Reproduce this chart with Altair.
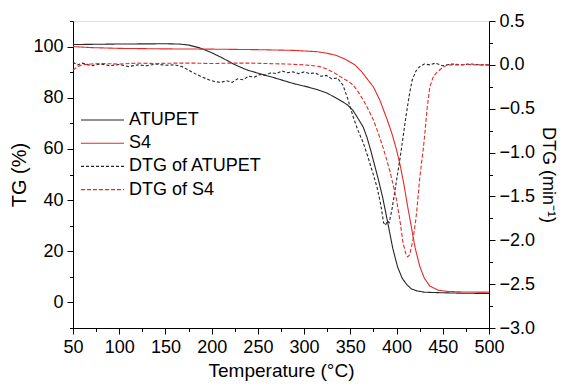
import altair as alt
import pandas as pd

FONT = "Liberation Sans"

# ---- data ----
atupet_tg_T = [50, 100, 150, 165, 175, 187, 200, 212, 223, 237, 252, 265, 277, 290, 303, 314, 325, 339,
               347, 353, 359, 364, 368, 372, 376, 380, 385, 390, 396, 401, 406, 411, 416, 422, 430, 447, 470, 500]
atupet_tg = [100.8, 101.0, 101.1, 101.0, 100.6, 99.5, 97.6, 95.5, 93.3, 91.0, 89.4, 88.1, 86.8, 85.4, 84.3,
             83.2, 81.8, 79.0, 77.2, 75.0, 71.5, 68.5, 64.5, 59.5, 54.0, 48.5, 41.0, 32.0, 21.0, 14.0, 9.5,
             7.0, 5.3, 4.5, 4.0, 3.8, 3.6, 3.5]

s4_tg_T = [50, 70, 100, 150, 200, 250, 290, 314, 325, 335, 345, 355, 362, 369, 375, 382, 390, 395, 400,
           404, 408, 412, 416, 420, 425, 430, 436, 445, 455, 470, 500]
s4_tg = [100.0, 99.6, 99.3, 99.1, 99.0, 98.8, 98.5, 98.0, 97.4, 96.5, 95.0, 92.8, 90.3, 87.0, 84.2, 79.0,
         71.3, 66.0, 59.6, 53.5, 46.0, 37.5, 29.5, 21.5, 14.2, 9.5, 6.4, 4.8, 4.3, 4.1, 4.0]

atupet_dtg_T = [50, 55, 60, 70, 80, 90, 100, 110, 120, 130, 140, 150, 160, 168, 175, 182, 190, 197, 203,
                210, 216, 222, 228, 234, 240, 246, 252, 258, 264, 270, 276, 282, 288, 294, 300, 306, 312,
                318, 324, 330, 336, 342, 347, 353, 358, 364, 369, 374, 379, 383, 386, 388, 390, 392, 395,
                398, 401, 404, 408, 411, 414, 417, 421, 425, 430, 436, 442, 450, 460, 470, 480, 490, 500]
atupet_dtg = [0.03, 0.0, 0.02, -0.01, 0.01, -0.01, 0.005, -0.02, 0.0, -0.01, 0.01, -0.005, 0.0, -0.02,
              -0.06, -0.1, -0.14, -0.17, -0.19, -0.2, -0.18, -0.2, -0.16, -0.17, -0.13, -0.14, -0.11,
              -0.12, -0.09, -0.1, -0.07, -0.09, -0.08, -0.1, -0.08, -0.1, -0.09, -0.13, -0.12, -0.16,
              -0.15, -0.23, -0.38, -0.59, -0.74, -0.89, -1.05, -1.22, -1.4, -1.6, -1.8, -1.83, -1.78,
              -1.8, -1.65, -1.45, -1.25, -1.05, -0.75, -0.53, -0.33, -0.17, -0.07, -0.02, 0.01, 0.0,
              0.02, -0.01, 0.01, 0.0, 0.01, 0.0, 0.0]

s4_dtg_T = [50, 55, 60, 70, 80, 100, 120, 140, 160, 180, 200, 220, 240, 260, 280, 300, 310, 317, 325,
            331, 337, 343, 348, 353, 358, 364, 369, 375, 380, 385, 389, 393, 397, 400, 404, 407, 410,
            412, 414, 416, 418, 421, 423, 425, 427, 429, 431, 433, 436, 440, 444, 450, 455, 465, 475,
            485, 500]
s4_dtg = [-0.06, -0.02, 0.0, 0.01, 0.015, 0.01, 0.02, 0.015, 0.02, 0.02, 0.015, 0.02, 0.02, 0.015, 0.01,
          0.0, -0.01, -0.02, -0.05, -0.08, -0.12, -0.16, -0.19, -0.23, -0.3, -0.4, -0.5, -0.63, -0.77,
          -0.93, -1.07, -1.22, -1.4, -1.54, -1.8, -2.03, -2.15, -2.19, -2.17, -2.08, -1.98, -1.75, -1.54,
          -1.3, -1.12, -0.95, -0.74, -0.5, -0.25, -0.13, -0.08, -0.03, 0.0, 0.0, 0.005, 0.0, 0.0]

series_names = ["ATUPET", "S4", "DTG of ATUPET", "DTG of S4"]
series_colors = ["#262626", "#e32b2b", "#262626", "#e32b2b"]
series_dashes = [[1, 0], [1, 0], [3, 2], [4, 2]]

x_major = [50, 100, 150, 200, 250, 300, 350, 400, 450, 500]
x_minor = [75, 125, 175, 225, 275, 325, 375, 425, 475]
tg_major = [0, 20, 40, 60, 80, 100]
tg_minor = [-10, 10, 30, 50, 70, 90, 110]
dtg_major = [0.5, 0.0, -0.5, -1.0, -1.5, -2.0, -2.5, -3.0]
dtg_minor = [0.25, -0.25, -0.75, -1.25, -1.75, -2.25, -2.75]

# ---- tables ----
tg_df = pd.concat([
    pd.DataFrame({"T": atupet_tg_T, "v": atupet_tg, "series": series_names[0]}),
    pd.DataFrame({"T": s4_tg_T, "v": s4_tg, "series": series_names[1]}),
])
dtg_df = pd.concat([
    pd.DataFrame({"T": atupet_dtg_T, "v": atupet_dtg, "series": series_names[2]}),
    pd.DataFrame({"T": s4_dtg_T, "v": s4_dtg, "series": series_names[3]}),
])

xscale = alt.Scale(domain=[50, 500], nice=False, zero=False)
tgscale = alt.Scale(domain=[-10, 110], nice=False, zero=False)
dtgscale = alt.Scale(domain=[-3.0, 0.5], nice=False, zero=False)

color = alt.Color("series:N", scale=alt.Scale(domain=series_names, range=series_colors),
                  legend=alt.Legend(title=None, orient="none", legendX=7, legendY=89,
                                    symbolType="stroke", symbolSize=1849, symbolStrokeWidth=1.1,
                                    clipHeight=20, rowPadding=3.2, labelOffset=4, padding=0,
                                    labelFontSize=18, labelFont=FONT, labelColor="#000"))
dash = alt.StrokeDash("series:N", scale=alt.Scale(domain=series_names, range=series_dashes), legend=None)

major_axis = dict(tickSize=6, labelPadding=4, labelFontSize=18, labelFont=FONT, labelColor="#000",
                  titleFont=FONT, titleFontWeight="normal", titleColor="#000",
                  labelFlush=False, labelOverlap=False,
                  domainColor="#000", tickColor="#000", grid=False)
minor_axis = dict(tickSize=3.5, labels=False, domain=False, title=None, tickColor="#000", grid=False)

tg_lines = alt.Chart(tg_df).mark_line(strokeWidth=1.1).encode(
    x=alt.X("T:Q", scale=xscale,
            axis=alt.Axis(values=x_major, orient="bottom", title="Temperature (°C)", format="d",
                          titlePadding=5, titleFontSize=19, **major_axis)),
    y=alt.Y("v:Q", scale=tgscale,
            axis=alt.Axis(values=tg_major, orient="left", title="TG (%)", format="d",
                          titlePadding=3, titleFontSize=20, **major_axis)),
    color=color, strokeDash=dash, order="T:Q",
)
tg_minor = alt.Chart(tg_df).mark_point(opacity=0).encode(
    x=alt.X("T:Q", scale=xscale, axis=alt.Axis(values=x_minor, orient="bottom", **minor_axis)),
    y=alt.Y("v:Q", scale=tgscale, axis=alt.Axis(values=tg_minor, orient="left", **minor_axis)),
)
dtg_lines = alt.Chart(dtg_df).mark_line(strokeWidth=1.1).encode(
    x=alt.X("T:Q", scale=xscale, axis=None),
    y=alt.Y("v:Q", scale=dtgscale,
            axis=alt.Axis(values=dtg_major, orient="right", title="DTG (min⁻¹)", format=".1f",
                          titlePadding=4, titleFontSize=18, **major_axis)),
    color=color, strokeDash=dash, order="T:Q",
)
dtg_minor = alt.Chart(dtg_df).mark_point(opacity=0).encode(
    x=alt.X("T:Q", scale=xscale, axis=None),
    y=alt.Y("v:Q", scale=dtgscale, axis=alt.Axis(values=dtg_minor, orient="right", **minor_axis)),
)

chart = alt.layer(tg_lines, tg_minor, dtg_lines, dtg_minor).resolve_scale(
    y="independent", color="shared", strokeDash="shared"
).resolve_axis(x="independent", y="independent").properties(
    width=416, height=307,
    autosize=alt.AutoSizeParams(type="none"),
    padding={"left": 65, "top": 13, "right": 71, "bottom": 54},
).configure_view(stroke="#000", strokeWidth=1).configure(background="white")

chart.save("out.html", embed_options={"renderer": "svg", "actions": False})
